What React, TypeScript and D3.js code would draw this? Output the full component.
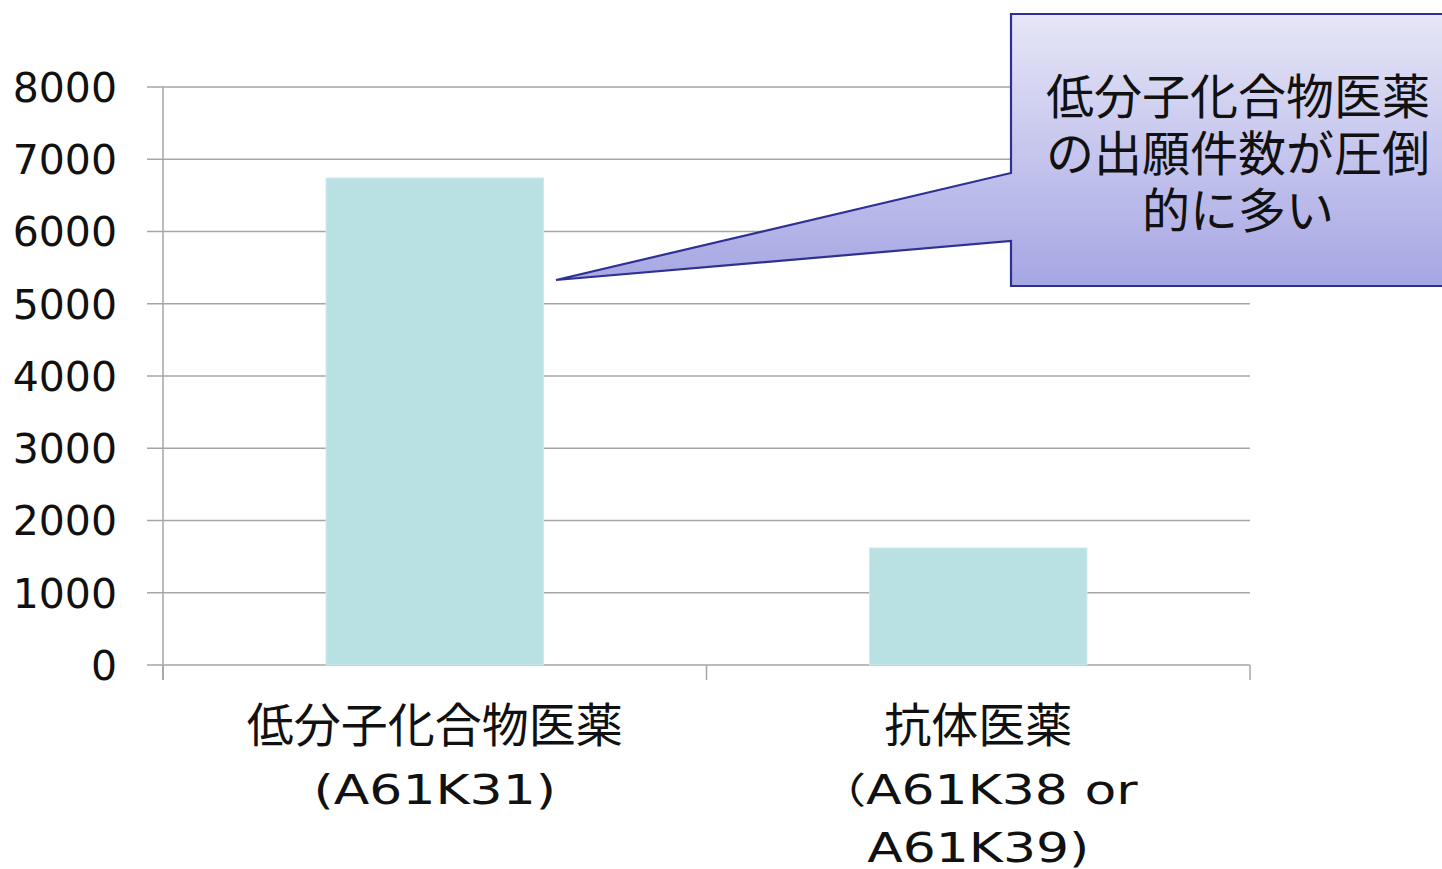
import React from "react";
import * as d3 from "d3";

const categories: string[][] = [
  ["低分子化合物医薬", "(A61K31)"],
  ["抗体医薬", "（A61K38 or", "A61K39)"],
];
const values: number[] = [6740, 1620];
const yTicks: number[] = [0, 1000, 2000, 3000, 4000, 5000, 6000, 7000, 8000];
const calloutLines: string[] = ["低分子化合物医薬", "の出願件数が圧倒", "的に多い"];

const W = 1442;
const H = 869;
const plot = { left: 163, right: 1250, top: 87, bottom: 665 };

const jp = "'Noto Sans CJK JP', 'Noto Sans', sans-serif";
const num = "'DejaVu Sans', Verdana, sans-serif";

// split a line into runs of CJK vs Latin characters
function runs(s: string): { t: string; latin: boolean }[] {
  const out: { t: string; latin: boolean }[] = [];
  for (const ch of s) {
    const latin = /[\x20-\x7e]/.test(ch);
    const last = out[out.length - 1];
    if (last && last.latin === latin) last.t += ch;
    else out.push({ t: ch, latin });
  }
  return out;
}

export default function App() {
  const x = d3
    .scaleBand<number>()
    .domain(values.map((_, i) => i))
    .range([plot.left, plot.right])
    .paddingInner(0.6)
    .paddingOuter(0.3);
  const xOuter = d3
    .scaleBand<number>()
    .domain(values.map((_, i) => i))
    .range([plot.left, plot.right])
    .padding(0);
  const y = d3.scaleLinear().domain([0, 8000]).range([plot.bottom, plot.top]);

  // callout geometry
  const box = { x: 1011, y: 14, w: 440, h: 272 };
  const tip = { x: 556, y: 280 };
  const baseTop = 173;
  const baseBot = 241;
  const calloutPath = [
    `M${box.x},${box.y}`,
    `L${box.x + box.w},${box.y}`,
    `L${box.x + box.w},${box.y + box.h}`,
    `L${box.x},${box.y + box.h}`,
    `L${box.x},${baseBot}`,
    `L${tip.x},${tip.y}`,
    `L${box.x},${baseTop}`,
    "Z",
  ].join(" ");

  const sx = 1.3; // horizontal stretch for the latin lines
  const lineY = [742, 804, 862];

  return (
    <div style={{ position: "absolute", left: 0, top: 0 }}>
      <svg width={W} height={H} style={{ display: "block", background: "#fff" }}>
        <defs>
          <linearGradient id="cg" x1="0" y1="0" x2="0" y2="1" gradientUnits="objectBoundingBox">
            <stop offset="0" stopColor="#e6e6f7" />
            <stop offset="1" stopColor="#a6a6e4" />
          </linearGradient>
        </defs>

        {/* gridlines */}
        {yTicks.map((t) => (
          <line
            key={t}
            x1={plot.left - 16}
            x2={plot.right}
            y1={y(t)}
            y2={y(t)}
            stroke="#a6a6a6"
            strokeWidth={1.5}
          />
        ))}
        {/* y axis */}
        <line x1={plot.left} x2={plot.left} y1={plot.top} y2={plot.bottom + 15} stroke="#a6a6a6" strokeWidth={1.5} />
        {/* category ticks */}
        {[...values.map((_, i) => xOuter(i)!), plot.right].map((xx, i) => (
          <line key={i} x1={xx} x2={xx} y1={plot.bottom} y2={plot.bottom + 15} stroke="#a6a6a6" strokeWidth={1.5} />
        ))}

        {/* bars */}
        {values.map((v, i) => (
          <rect
            key={i}
            x={x(i)}
            y={y(v)}
            width={x.bandwidth()}
            height={y(0) - y(v)}
            fill="#b9e0e3"
            stroke="#cdeaec"
            strokeWidth={1}
          />
        ))}

        {/* y labels */}
        {yTicks.map((t) => (
          <text
            key={t}
            x={117}
            y={y(t)}
            dy="0.36em"
            textAnchor="end"
            fontFamily={num}
            fontSize={41}
            fill="#111"
          >
            {t}
          </text>
        ))}

        {/* category labels */}
        {categories.map((lines, i) => {
          const cx = xOuter(i)! + xOuter.bandwidth() / 2;
          return lines.map((l, j) => {
            const rs = runs(l);
            const hasLatin = rs.some((r) => r.latin);
            const s = hasLatin ? sx : 1;
            return (
              <g key={`${i}-${j}`} transform={`translate(${cx},${lineY[j]}) scale(${s},1)`}>
                <text textAnchor="middle" fontFamily={jp} fontSize={47} fill="#111">
                  {rs.map((r, k) => (
                    <tspan
                      key={k}
                      fontFamily={r.latin ? num : jp}
                      fontSize={r.latin ? 40 : 47 / s}
                    >
                      {r.t}
                    </tspan>
                  ))}
                </text>
              </g>
            );
          });
        })}

        {/* callout */}
        <path d={calloutPath} fill="url(#cg)" stroke="#2e3192" strokeWidth={2.2} strokeLinejoin="miter" />
        {calloutLines.map((l, j) => (
          <text
            key={j}
            x={1238}
            y={114 + j * 57}
            textAnchor="middle"
            fontFamily={jp}
            fontSize={48}
            fill="#111"
          >
            {l}
          </text>
        ))}
      </svg>
    </div>
  );
}
